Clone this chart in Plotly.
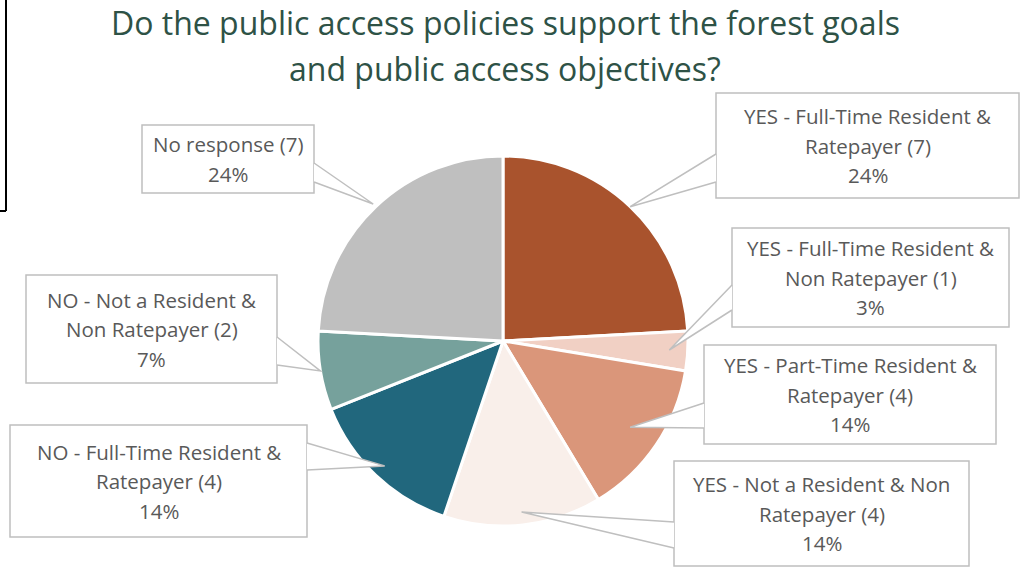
import math
import plotly.graph_objects as go

# Survey responses
categories = [
    "YES - Full-Time Resident &<br>Ratepayer",
    "YES - Full-Time Resident &<br>Non Ratepayer",
    "YES - Part-Time Resident &<br>Ratepayer",
    "YES - Not a Resident & Non<br>Ratepayer",
    "NO - Full-Time Resident &<br>Ratepayer",
    "NO - Not a Resident &<br>Non Ratepayer",
    "No response",
]
counts = [7, 1, 4, 4, 4, 2, 7]
colors = ["#A9532D", "#F1D0C4", "#DA967A", "#F9EFEA", "#21677D", "#76A19C", "#BFBFBF"]
title_lines = ["Do the public access policies support the forest goals",
               "and public access objectives?"]

W, H = 1021, 567
CX, CY, R = 503, 341, 185

# Callout boxes (pixel layout): x0, x1, y0, y1, pointer base points, tip radius fraction
boxes = [
    dict(x0=716, x1=1019, y0=93, y1=198, p1=(716, 154), p2=(716, 182), rf=1.0),
    dict(x0=732, x1=1009, y0=228, y1=327, p1=(732, 285), p2=(732, 310), rf=0.9),
    dict(x0=704, x1=996, y0=345, y1=444, p1=(704, 403), p2=(704, 428), rf=0.83),
    dict(x0=674, x1=969, y0=461, y1=566, p1=(674, 522), p2=(674, 548), rf=0.93),
    dict(x0=10, x1=307, y0=425, y1=537, p1=(307, 443), p2=(307, 470), rf=0.93),
    dict(x0=26, x1=277, y0=275, y1=383, p1=(277, 337), p2=(277, 365), rf=1.0),
    dict(x0=142, x1=314, y0=125, y1=193, p1=(314, 163), p2=(314, 182), rf=1.02),
]

total = sum(counts)
fig = go.Figure()

fig.add_trace(go.Pie(
    labels=[c.replace("<br>", " ") for c in categories],
    values=counts,
    sort=False,
    direction="clockwise",
    rotation=0,
    marker=dict(colors=colors, line=dict(color="white", width=3)),
    textinfo="none",
    hoverinfo="label+value+percent",
    showlegend=False,
    domain=dict(x=[(CX - R) / W, (CX + R) / W], y=[1 - (CY + R) / H, 1 - (CY - R) / H]),
))

# invisible pixel overlay for callouts
fig.add_trace(go.Scatter(x=[0, W], y=[0, H], mode="markers",
                         marker=dict(opacity=0), hoverinfo="skip", showlegend=False))

shapes = []
annotations = []
cum = 0
for cat, n, b in zip(categories, counts, boxes):
    mid = (cum + n / 2) / total * 2 * math.pi
    cum += n
    tx = CX + R * b["rf"] * math.sin(mid)
    ty = CY - R * b["rf"] * math.cos(mid)
    shapes.append(dict(type="rect", xref="x", yref="y", x0=b["x0"], x1=b["x1"],
                       y0=b["y0"], y1=b["y1"], fillcolor="white",
                       line=dict(color="#BFBFBF", width=1.5), layer="above"))
    (x1, y1), (x2, y2) = b["p1"], b["p2"]
    shapes.append(dict(type="path", xref="x", yref="y",
                       path=f"M {x1},{y1} L {tx:.1f},{ty:.1f} L {x2},{y2}",
                       fillcolor="white", line=dict(color="#BFBFBF", width=1.5),
                       layer="above"))
    pct = round(n / total * 100)
    lines = f"{cat} ({n})<br>{pct}%".split("<br>")
    cy = (b["y0"] + b["y1"]) / 2
    step = 29.5
    for k, ln in enumerate(lines):
        yy = cy + (k - (len(lines) - 1) / 2) * step
        annotations.append(dict(x=(b["x0"] + b["x1"]) / 2, y=yy, xref="x", yref="y",
                                text=ln, showarrow=False,
                                font=dict(family="Open Sans", size=20.5, color="#595959"),
                                xanchor="center", yanchor="middle"))

for k, t in enumerate(title_lines):
    annotations.append(dict(x=505, y=22 + k * 46, xref="x", yref="y", text=t,
                            showarrow=False, xanchor="center", yanchor="middle",
                            font=dict(family="Open Sans", size=32, color="#2E5246")))

# frame edge at top-left
shapes.append(dict(type="line", xref="x", yref="y", x0=6, x1=6, y0=0, y1=211,
                   line=dict(color="black", width=2)))
shapes.append(dict(type="line", xref="x", yref="y", x0=0, x1=6, y0=211, y1=211,
                   line=dict(color="black", width=2)))

fig.update_layout(
    width=W, height=H,
    margin=dict(l=0, r=0, t=0, b=0),
    paper_bgcolor="white", plot_bgcolor="rgba(0,0,0,0)",
    xaxis=dict(range=[0, W], visible=False, fixedrange=True),
    yaxis=dict(range=[H, 0], visible=False, fixedrange=True),
    shapes=shapes,
    annotations=annotations,
)

fig.write_html("out.html")
